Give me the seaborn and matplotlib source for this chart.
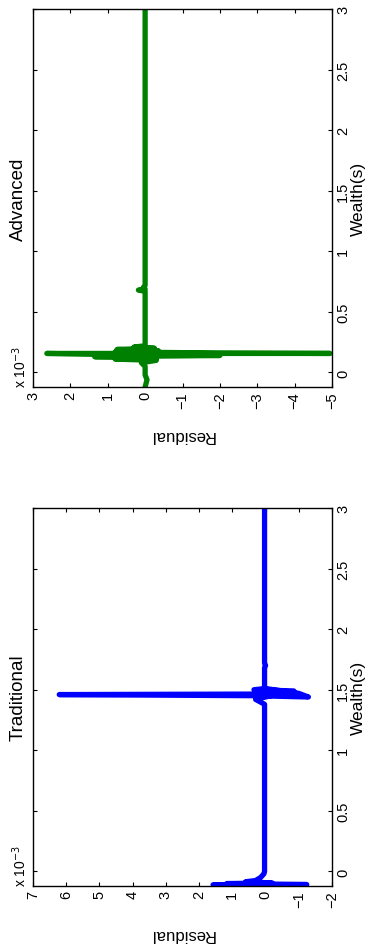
import matplotlib
matplotlib.use("Agg")
import matplotlib.pyplot as plt
import seaborn as sns
import pandas as pd

sns.set_theme(style="white")
plt.rcParams['font.family'] = ['Liberation Sans', 'DejaVu Sans']
plt.rcParams['text.color'] = 'black'
plt.rcParams['xtick.color'] = 'black'
plt.rcParams['ytick.color'] = 'black'

# ---- data (residual in units of 1e-3) ----
adv_wealth = [-0.12, -0.06, -0.02, 0.05, 0.08, 0.10, 0.11, 0.12, 0.13, 0.14, 0.15,
              0.157, 0.157, 0.16, 0.17, 0.18, 0.19, 0.20, 0.21, 0.22, 0.25, 0.5,
              0.67, 0.68, 0.69, 0.70, 0.72, 1.0, 1.2, 2.0, 3.0]
adv_resid = [0.0, -0.05, 0.0, 0.0, 0.1, -0.3, 0.8, -0.3, 1.35, -2.0, 1.3,
             2.63, -4.95, -1.95, 0.8, -0.35, 0.75, -0.25, 0.3, 0.0, 0.0, 0.0,
             0.0, 0.18, 0.0, 0.05, 0.0, 0.0, 0.0, 0.0, 0.0]

trad_wealth = [-0.12, -0.11, -0.108, -0.10, -0.095, -0.085, -0.075, -0.05, -0.02, 0.0,
               0.5, 1.0, 1.38, 1.42, 1.45, 1.46, 1.465, 1.49, 1.50, 1.51, 1.47, 1.44,
               1.45, 1.52, 1.68, 1.70, 1.72, 2.0, 3.0]
trad_resid = [0.0, 1.58, -1.24, 1.17, -0.2, 0.6, 0.3, 0.15, 0.05, 0.03,
              0.03, 0.03, 0.03, 0.3, -0.15, 6.21, -0.9, -0.85, 0.35, 0.0, -1.0, -1.29,
              0.2, 0.03, 0.03, 0.0, 0.03, 0.03, 0.03]

wealth_ticks = [0, 0.5, 1, 1.5, 2, 2.5, 3]
wealth_labels = ["0", "0.5", "1", "1.5", "2", "2.5", "3"]
adv_ticks = [3, 2, 1, 0, -1, -2, -3, -4, -5]
trad_ticks = [7, 6, 5, 4, 3, 2, 1, 0, -1, -2]

panels = [
    ("Advanced", adv_wealth, adv_resid, adv_ticks, "#008000"),
    ("Traditional", trad_wealth, trad_resid, trad_ticks, "#0000ff"),
]

W, H = 370, 953
fig = plt.figure(figsize=(W / 100, H / 100), dpi=100)
boxes = [(33, 10, 332, 388), (33, 509, 332, 887)]

for (title, wv, rv, rticks, color), (x0, y0, x1, y1) in zip(panels, boxes):
    ax = fig.add_axes([x0 / W, 1 - y1 / H, (x1 - x0) / W, (y1 - y0) / H])
    df = pd.DataFrame({"resid": rv, "wealth": wv})
    sns.lineplot(data=df, x="resid", y="wealth", sort=False, estimator=None,
                 orient="y", color=color, linewidth=3.8, ax=ax,
                 solid_capstyle="round", solid_joinstyle="round")
    ax.set_xlim(rticks[0], rticks[-1])
    ax.set_ylim(-0.12, 3)
    ax.set_xticks(rticks)
    ax.set_xticklabels([str(t).replace("-", "\u2212") for t in rticks],
                       rotation=90, fontsize=10.5)
    ax.set_yticks(wealth_ticks)
    ax.set_yticklabels(wealth_labels, rotation=90, fontsize=10.5, va="center")
    ax.yaxis.tick_right()
    ax.tick_params(axis="both", which="both", direction="in", length=3,
                   width=0.8, color="black", top=True, bottom=True,
                   left=True, right=True, labelleft=False, labelright=True,
                   labeltop=False, labelbottom=True, pad=3)
    for s in ax.spines.values():
        s.set_visible(True)
        s.set_color("black")
        s.set_linewidth(1.0)
    ax.set_xlabel("")
    ax.set_ylabel("")
    # rotated labels
    ax.text(1.088, 0.5, "Wealth(s)", transform=ax.transAxes, rotation=90,
            ha="center", va="center", fontsize=12.5)
    ax.text(0.5, -0.125, "Residual", transform=ax.transAxes, rotation=180,
            ha="center", va="center", fontsize=12)
    ax.text(-0.05, 0.5, title, transform=ax.transAxes, rotation=90,
            ha="center", va="center", fontsize=13.5)
    ax.text(-0.045, 0.0, "x 10$^{\u22123}$", transform=ax.transAxes, rotation=90,
            ha="center", va="bottom", fontsize=10)

fig.savefig("out.png", dpi=100)
